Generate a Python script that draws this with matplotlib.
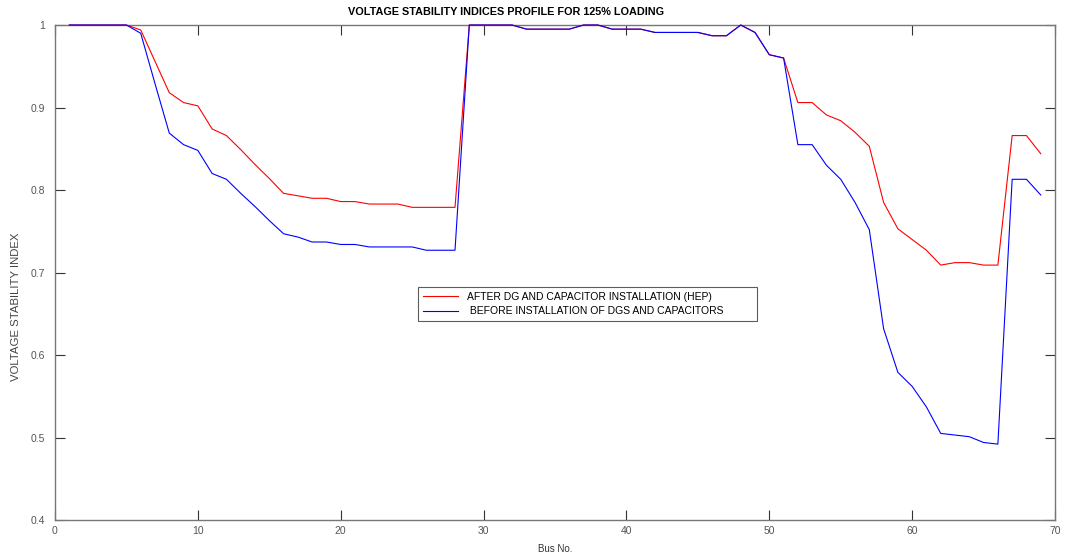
import matplotlib.pyplot as plt
import numpy as np

# bus numbers of the 69-bus feeder
bus = np.arange(1, 70)

# voltage stability index after DG and capacitor placement
vsi_after = [
    1.000, 1.000, 1.000, 1.000, 1.000, 0.994, 0.956, 0.918, 0.906, 0.902,
    0.874, 0.866, 0.849, 0.831, 0.814, 0.796, 0.793, 0.790, 0.790, 0.786,
    0.786, 0.783, 0.783, 0.783, 0.779, 0.779, 0.779, 0.779, 1.000, 1.000,
    1.000, 1.000, 0.995, 0.995, 0.995, 0.995, 1.000, 1.000, 0.995, 0.995,
    0.995, 0.991, 0.991, 0.991, 0.991, 0.987, 0.987, 1.000, 0.991, 0.964,
    0.960, 0.906, 0.906, 0.891, 0.884, 0.870, 0.853, 0.785, 0.753, 0.740,
    0.727, 0.709, 0.712, 0.712, 0.709, 0.709, 0.866, 0.866, 0.844,
]

# voltage stability index of the base case
vsi_before = [
    1.000, 1.000, 1.000, 1.000, 1.000, 0.990, 0.929, 0.869, 0.855, 0.848,
    0.820, 0.813, 0.796, 0.780, 0.763, 0.747, 0.743, 0.737, 0.737, 0.734,
    0.734, 0.731, 0.731, 0.731, 0.731, 0.727, 0.727, 0.727, 1.000, 1.000,
    1.000, 1.000, 0.995, 0.995, 0.995, 0.995, 1.000, 1.000, 0.995, 0.995,
    0.995, 0.991, 0.991, 0.991, 0.991, 0.987, 0.987, 1.000, 0.991, 0.964,
    0.960, 0.855, 0.855, 0.830, 0.813, 0.785, 0.752, 0.632, 0.579, 0.562,
    0.537, 0.505, 0.503, 0.501, 0.494, 0.492, 0.813, 0.813, 0.794,
]

plt.rcParams['font.family'] = 'Liberation Sans'

fig = plt.figure(figsize=(10.7, 5.56), dpi=100)
ax = fig.add_axes([0.0514, 0.0647, 0.9346, 0.8903])

# the trailing blanks widen the legend box a bit
ax.plot(bus, vsi_after, color='#ff0000', linewidth=0.8, clip_on=False, zorder=3,
        label='AFTER DG AND CAPACITOR INSTALLATION (HEP)              ')
ax.plot(bus, vsi_before, color='#0000ff', linewidth=0.8, clip_on=False, zorder=3,
        label=' BEFORE INSTALLATION OF DGS AND CAPACITORS')

ax.set_xlim(0, 70)
ax.set_ylim(0.4, 1.0)
ax.set_xticks(np.arange(0, 71, 10))
ax.set_yticks(np.arange(0.4, 1.01, 0.1))
ax.set_yticklabels(['0.4', '0.5', '0.6', '0.7', '0.8', '0.9', '1'])
ax.tick_params(direction='in', length=7, width=0.8, top=True, right=True,
               labelsize=7.5, colors='#333333', labelcolor='#555555')
ax.tick_params(axis='y', pad=7)
ax.tick_params(axis='x', pad=4)
for s in ax.spines.values():
    s.set_color('#777777')
    s.set_linewidth(1.0)

ax.set_title('VOLTAGE STABILITY INDICES PROFILE FOR 125% LOADING',
             fontsize=7.8, fontweight='bold', pad=7, x=0.451)
ax.set_xlabel('Bus No.', fontsize=7, color='#333333', labelpad=6)
ax.set_ylabel('VOLTAGE STABILITY INDEX', fontsize=8.2, color='#444444')
ax.yaxis.set_label_coords(-0.034, 0.43)

leg = ax.legend(loc='upper left', bbox_to_anchor=(0.363, 0.471), borderaxespad=0,
                fontsize=7.5, frameon=True, fancybox=False, handlelength=3.4,
                borderpad=0.45, labelspacing=0.45, handletextpad=0.9)
leg.get_frame().set_edgecolor('#333333')
leg.get_frame().set_linewidth(0.8)

fig.savefig('out.png', dpi=100)
